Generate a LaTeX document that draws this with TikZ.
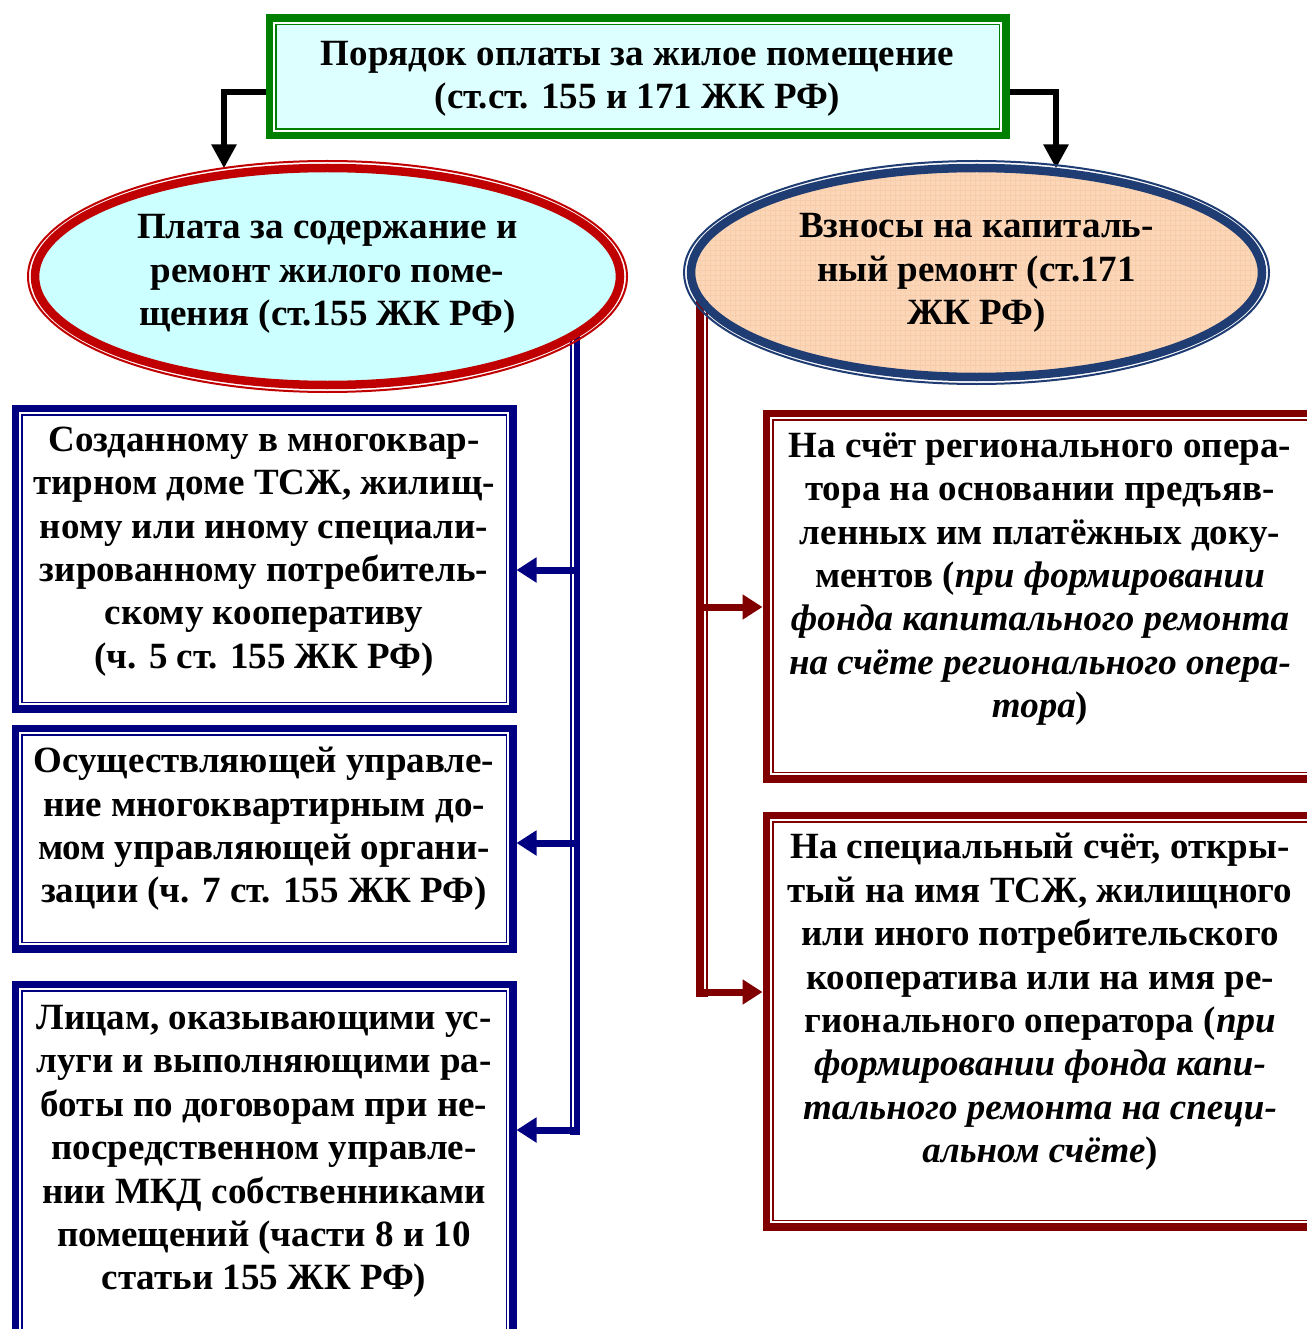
\documentclass[tikz,border=0pt]{standalone}
\usepackage{fontspec}
\setmainfont{Liberation Serif}
\usetikzlibrary{arrows.meta}
\usetikzlibrary{shapes.geometric}

\definecolor{topgreen}{RGB}{0,128,0}
\definecolor{topfill}{RGB}{221,255,255}
\definecolor{platared}{RGB}{192,0,0}
\definecolor{platafill}{RGB}{204,255,255}
\definecolor{vznosblue}{RGB}{31,60,115}
\definecolor{vznosfill}{RGB}{251,214,184}
\definecolor{vznosgrid}{RGB}{248,205,170}
\definecolor{navyc}{RGB}{0,0,128}
\definecolor{maroonc}{RGB}{128,0,0}

\begin{document}
\begin{tikzpicture}[x=1pt, y=-1pt,
    frame/.style={draw=#1, line width=1.5pt, double=white, double distance=2pt,
      preaction={draw=#1, line width=17pt}, inner sep=0pt, outer sep=8.5pt},
    txt/.style={align=center, inner sep=0pt, font=\fontsize{37}{43.4}\selectfont\bfseries},
    blk/.style={draw=black, line width=6.5pt, -{Triangle[length=24pt, width=24pt]}},
    bus/.style={draw=#1, line width=10pt},
    busgap/.style={draw=white, line width=2pt},
    busarr/.style={draw=#1, line width=7pt, -{Triangle[length=20pt, width=24pt]}}]
            \useasboundingbox (0,0) rectangle (1306,1329);

            \node[frame=topgreen, fill=topfill, minimum width=727pt, minimum height=108pt] (top) at (637.5,77) {};
            \node[txt] (toptxt) at (637.5,79) {Порядок оплаты за жилое помещение\\(ст.ст. 155 и 171 ЖК РФ)};

            \node[ellipse, fill=platafill, inner sep=0pt, minimum width=584pt, minimum height=216pt] (lell) at (327.5,276.5) {};
            \node[ellipse, fill=vznosfill, inner sep=0pt, minimum width=570pt, minimum height=208pt] (rell) at (976.5,272.5) {};
            \begin{scope}
                \clip (rell.center) ellipse [x radius=285pt, y radius=104pt];
                \draw[vznosgrid, line width=0.5pt, step=5pt] (683,160) grid (1270,385);
            \end{scope}

            \node[frame=navyc, fill=white, minimum width=488pt, minimum height=291pt] (boxA) at (264,558.5) {};
            \node[frame=navyc, fill=white, minimum width=488pt, minimum height=211pt] (boxB) at (264,838.5) {};
            \node[frame=navyc, fill=white, minimum width=488pt, minimum height=348pt] (boxC) at (264,1163) {};
            \node[frame=maroonc, fill=white, minimum width=539pt, minimum height=356pt] (boxD) at (1040.5,596) {};
            \node[frame=maroonc, fill=white, minimum width=539pt, minimum height=402pt] (boxE) at (1040.5,1021) {};

            \draw[blk] ([yshift=-15pt]top.west) -| ([xshift=-103.5pt]lell.north);
            \draw[blk] ([yshift=-15pt]top.east) -| ([xshift=79.5pt]rell.north);

            \coordinate (lbus) at (lell.-13.2);
            \draw[bus=navyc] (lbus) -- ([yshift=28pt]boxC.east -| lbus);
            \draw[busgap] ([xshift=-2pt]lbus) -- ([xshift=-2pt,yshift=36pt]boxC.east -| lbus);
            \draw[busarr=navyc] ([yshift=-11.5pt]boxA.east -| lbus) -- ([yshift=-11.5pt]boxA.east);
            \draw[busarr=navyc] ([yshift=-4.5pt]boxB.east -| lbus) -- ([yshift=-4.5pt]boxB.east);
            \draw[busarr=navyc] ([yshift=33pt]boxC.east -| lbus) -- ([yshift=33pt]boxC.east);

            \coordinate (rbus) at (rell.186.7);
            \draw[bus=maroonc, line width=12pt] (rbus) -- ([yshift=24pt]boxE.west -| rbus);
            \draw[busgap] ([xshift=3pt]rbus) -- ([xshift=3pt,yshift=32pt]boxE.west -| rbus);
            \draw[busarr=maroonc] ([yshift=-11pt]boxD.west -| rbus) -- ([yshift=-11pt]boxD.west);
            \draw[busarr=maroonc] ([yshift=29pt]boxE.west -| rbus) -- ([yshift=29pt]boxE.west);

            \draw[platared, line width=2pt] (lell.center) ellipse [x radius=299.5pt, y radius=115.5pt];
            \draw[platared, line width=8.5pt] (lell.center) ellipse [x radius=292.5pt, y radius=108.5pt];
            \draw[vznosblue, line width=2pt] (rell.center) ellipse [x radius=292.5pt, y radius=111.5pt];
            \draw[vznosblue, line width=8.5pt] (rell.center) ellipse [x radius=285.5pt, y radius=104.5pt];

            \node[txt] (lelltxt) at (327.5,274) {Плата за содержание и\\ремонт жилого поме-\\щения (ст.155 ЖК РФ)};
            \node[txt] (relltxt) at (976.5,273) {Взносы на капиталь-\\ный ремонт (ст.171\\ЖК РФ)};

            \node[txt] (txtA) at (264,551.5) {Созданному в многоквар-\\тирном доме ТСЖ, жилищ-\\ному или иному специали-\\зированному потребитель-\\скому кооперативу\\(ч. 5 ст. 155 ЖК РФ)};
            \node[txt] (txtB) at (264,829) {Осуществляющей управле-\\ние многоквартирным до-\\мом управляющей органи-\\зации (ч. 7 ст. 155 ЖК РФ)};
            \node[txt] (txtC) at (264,1151.5) {Лицам, оказывающими ус-\\луги и выполняющими ра-\\боты по договорам при не-\\посредственном управле-\\нии МКД собственниками\\помещений (части 8 и 10\\статьи 155 ЖК РФ)};
            \node[txt] (txtD) at (1040,579) {На счёт регионального опера-\\тора на основании предъяв-\\ленных им платёжных доку-\\ментов (\textit{при формировании}\\\textit{фонда капитального ремонта}\\\textit{на счёте регионального опера-}\\\textit{тора})};
            \node[txt] (txtE) at (1040,1002) {На специальный счёт, откры-\\тый на имя ТСЖ, жилищного\\или иного потребительского\\кооператива или на имя ре-\\гионального оператора (\textit{при}\\\textit{формировании фонда капи-}\\\textit{тального ремонта на специ-}\\\textit{альном счёте})};
        \end{tikzpicture}
\end{document}
